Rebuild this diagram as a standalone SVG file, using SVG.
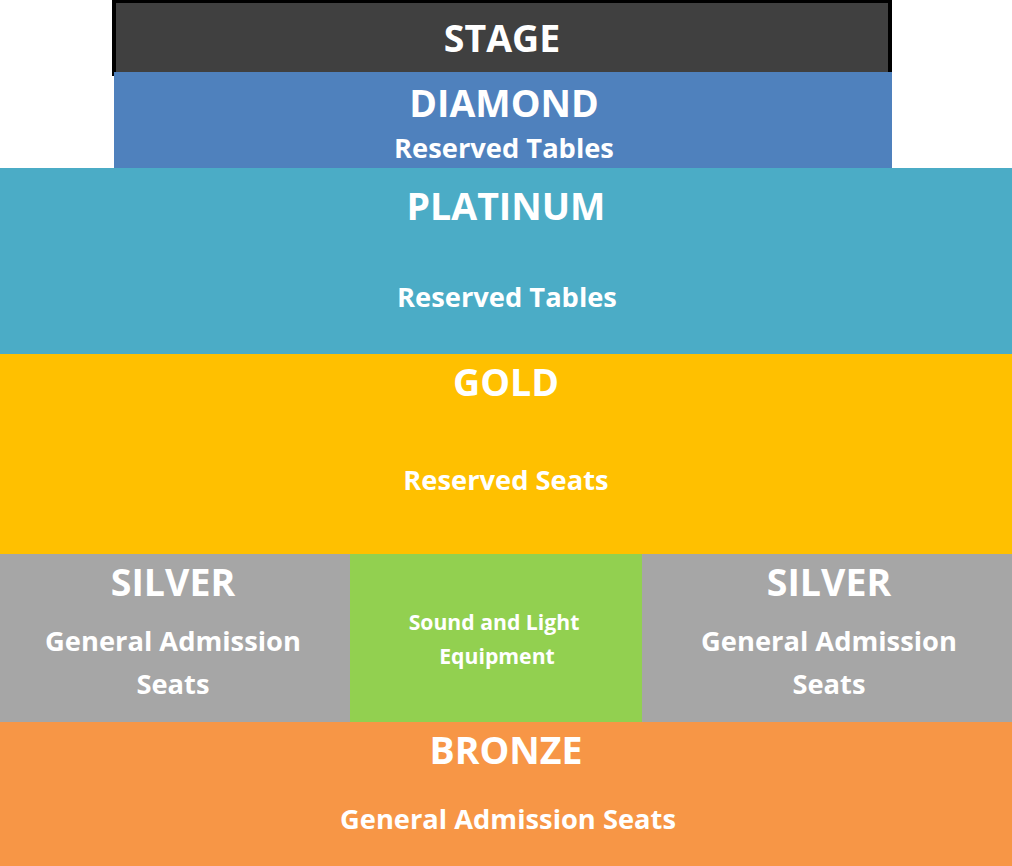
<svg xmlns="http://www.w3.org/2000/svg" width="1012" height="866" viewBox="0 0 1012 866">
<style>
text{font-family:"Open Sans","Lato","Liberation Sans",sans-serif;font-weight:bold;fill:#fff;text-anchor:middle}
.h{font-size:37.5px}
.s{font-size:27.3px}
.t{font-size:21.2px}
</style>
<rect width="1012" height="866" fill="#fff"/>
<g id="stage">
<rect x="114" y="1" width="776" height="73" fill="#404040" stroke="#000" stroke-width="4"/>
<text class="h" x="502" y="52">STAGE</text>
</g>
<g id="diamond">
<rect x="114" y="72" width="778" height="96" fill="#4F81BD"/>
<text class="h" x="504" y="117">DIAMOND</text>
<text class="s" x="504" y="158">Reserved Tables</text>
</g>
<g id="platinum">
<rect x="0" y="168" width="1012" height="186" fill="#4BACC6"/>
<text class="h" x="506" y="220">PLATINUM</text>
<text class="s" x="507" y="307">Reserved Tables</text>
</g>
<g id="gold">
<rect x="0" y="354" width="1012" height="200" fill="#FFC000"/>
<text class="h" x="506" y="396">GOLD</text>
<text class="s" x="506" y="490">Reserved Seats</text>
</g>
<g id="silver-left">
<rect x="0" y="554" width="350" height="168" fill="#A6A6A6"/>
<text class="h" x="173" y="596">SILVER</text>
<text class="s" x="173" y="651">General Admission</text>
<text class="s" x="173" y="694">Seats</text>
</g>
<g id="equipment">
<rect x="350" y="554" width="292" height="168" fill="#92D050"/>
<text class="t" x="494" y="630">Sound and Light</text>
<text class="t" x="497" y="664">Equipment</text>
</g>
<g id="silver-right">
<rect x="642" y="554" width="370" height="168" fill="#A6A6A6"/>
<text class="h" x="829" y="596">SILVER</text>
<text class="s" x="829" y="651">General Admission</text>
<text class="s" x="829" y="694">Seats</text>
</g>
<g id="bronze">
<rect x="0" y="722" width="1012" height="144" fill="#F79646"/>
<text class="h" x="506" y="764">BRONZE</text>
<text class="s" x="508" y="829">General Admission Seats</text>
</g>
<g id="connectors"/>
</svg>
